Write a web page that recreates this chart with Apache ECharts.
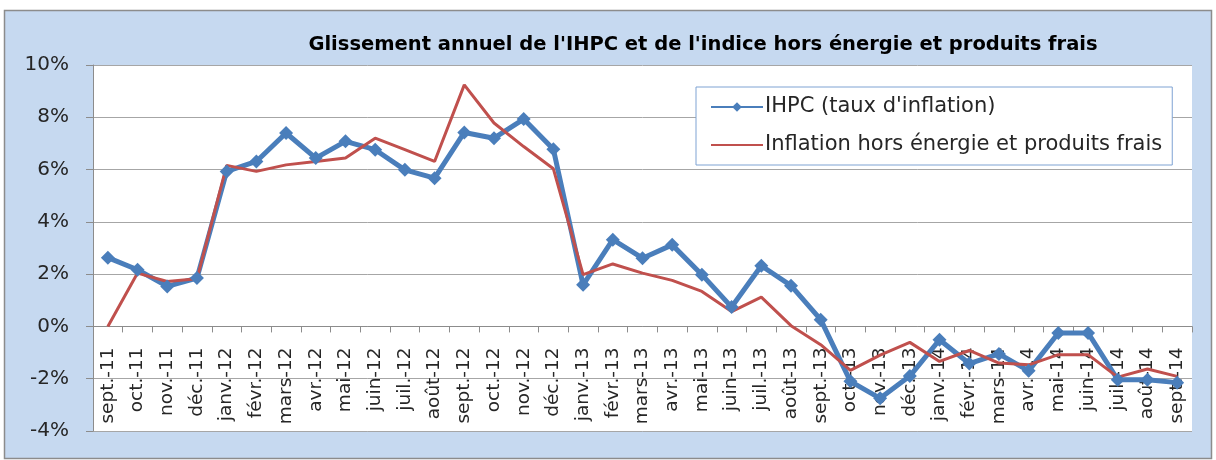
<!DOCTYPE html>
<html>
<head>
<meta charset="utf-8">
<script src="https://cdn.jsdelivr.net/npm/echarts@6/dist/echarts.min.js"></script>
<style>
html,body{margin:0;padding:0;background:#fff;}
#chart{width:1216px;height:460px;}
</style>
</head>
<body>
<div id="chart"></div>
<script>
const categories = ["sept.-11","oct.-11","nov.-11","déc.-11","janv.-12","févr.-12","mars-12","avr.-12","mai-12","juin-12","juil.-12","août-12","sept.-12","oct.-12","nov.-12","déc.-12","janv.-13","févr.-13","mars-13","avr.-13","mai-13","juin-13","juil.-13","août-13","sept.-13","oct.-13","nov.-13","déc.-13","janv.-14","févr.-14","mars-14","avr.-14","mai-14","juin-14","juil.-14","août-14","sept.-14"];
const ihpc = [2.63,2.17,1.53,1.85,5.93,6.31,7.40,6.44,7.08,6.76,5.99,5.67,7.42,7.20,7.93,6.78,1.59,3.32,2.61,3.12,1.98,0.74,2.32,1.56,0.26,-2.1,-2.75,-1.9,-0.51,-1.42,-1.05,-1.7,-0.25,-0.25,-2.04,-2.04,-2.15];
const core = [0,2.04,1.72,1.82,6.16,5.93,6.18,6.31,6.44,7.20,6.76,6.31,9.24,7.78,6.88,6.03,1.98,2.39,2.04,1.76,1.34,0.57,1.12,0.03,-0.70,-1.68,-1.1,-0.61,-1.34,-0.92,-1.40,-1.47,-1.08,-1.08,-1.94,-1.63,-1.91];
const yTicks = {min:-4, max:10, interval:2};
const seriesNames = ["IHPC (taux d'inflation)", "Inflation hors énergie et produits frais"];
const titleText = "Glissement annuel de l'IHPC et de l'indice hors énergie et produits frais";

const gridTop = 65, gridBottom = 29, chartH = 460;
const gridH = chartH - gridTop - gridBottom;
const zeroOffset = gridH * (0 - yTicks.min) / (yTicks.max - yTicks.min);

const chart = echarts.init(document.getElementById('chart'));
const font = "'DejaVu Sans', sans-serif";
chart.setOption({
  backgroundColor: '#fff',
  animation: false,
  textStyle: {fontFamily: font},
  graphic: [{
    type: 'rect', z: -10, silent: true,
    shape: {x: 4.5, y: 10.5, width: 1207, height: 448},
    style: {fill: '#c6d9f0', stroke: '#8c8c8c', lineWidth: 1.5}
  }],
  title: {
    text: titleText,
    left: 698, top: 30, textAlign: 'center',
    textStyle: {fontFamily: font, fontWeight: 'bold', fontSize: 19.5, color: '#000'}
  },
  grid: {left: 93, right: 24, top: gridTop, bottom: gridBottom, show: true, backgroundColor: '#fff', borderWidth: 0, containLabel: false, outerBoundsMode: 'none'},
  legend: {
    orient: 'vertical', left: 696, top: 87,
    padding: [8, 10, 8, 14], itemGap: 14,
    itemWidth: 52, itemHeight: 12,
    backgroundColor: '#fff', borderColor: '#7fa3d3', borderWidth: 1,
    textStyle: {fontFamily: font, fontSize: 21, color: '#262626', lineHeight: 24, padding: [0,0,0,-3]},
    data: [{name: seriesNames[0]}, {name: seriesNames[1], itemStyle: {opacity: 0}}]
  },
  xAxis: {
    type: 'category', data: categories, boundaryGap: true,
    offset: -zeroOffset,
    axisLine: {onZero: false, lineStyle: {color: '#8c8c8c', width: 1}},
    axisTick: {show: true, interval: 0, alignWithLabel: false, length: 6, lineStyle: {color: '#8c8c8c'}},
    axisLabel: {interval: 0, rotate: 90, margin: 21, fontSize: 18.5, color: '#262626', fontFamily: font},
    splitLine: {show: false}
  },
  yAxis: {
    type: 'value', min: yTicks.min, max: yTicks.max, interval: yTicks.interval,
    axisLine: {show: true, onZero: false, lineStyle: {color: '#8c8c8c'}},
    axisTick: {show: true, length: 7, lineStyle: {color: '#8c8c8c'}},
    axisLabel: {formatter: '{value}%', fontSize: 20, color: '#262626', margin: 24, fontFamily: font},
    splitLine: {lineStyle: {color: '#a6a6a6', width: 1}}
  },
  series: [
    {
      name: seriesNames[0], type: 'line', data: ihpc,
      symbol: 'diamond', symbolSize: 14, showSymbol: true,
      lineStyle: {color: '#4a7ebb', width: 5},
      itemStyle: {color: '#4a7ebb'}
    },
    {
      name: seriesNames[1], type: 'line', data: core,
      symbol: 'none',
      lineStyle: {color: '#c0504d', width: 3},
      itemStyle: {color: '#c0504d'}
    }
  ]
});
</script>
</body>
</html>
